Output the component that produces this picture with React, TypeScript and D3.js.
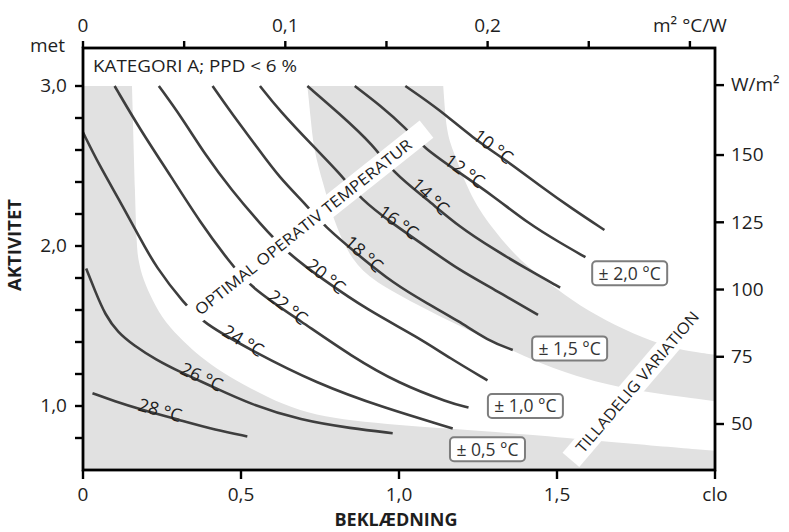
import React from "react";
import * as d3 from "d3";

const WIDTH = 789;
const HEIGHT = 532;
const FONT = "'Open Sans', 'Noto Sans', sans-serif";
const INK = "#1e1e1e";
const LINE = "#3e3e3e";
const SHADE = "#e1e1e1";

// comfort lines (operative temperature), clothing in clo vs activity in met
const temps = [10, 12, 14, 16, 18, 20, 22, 24, 26, 28];
const clo10 = [1.02, 1.13, 1.23, 1.35, 1.45, 1.55, 1.65];
const met10 = [3.0, 2.85, 2.68, 2.52, 2.37, 2.23, 2.1];
const clo12 = [0.86, 0.94, 1.02, 1.08, 1.19, 1.3, 1.41, 1.51, 1.59];
const met12 = [3.0, 2.88, 2.74, 2.61, 2.46, 2.31, 2.14, 2.02, 1.93];
const clo14 = [0.71, 0.81, 0.92, 0.98, 1.09, 1.19, 1.3, 1.41, 1.51];
const met14 = [3.0, 2.83, 2.63, 2.46, 2.29, 2.12, 1.98, 1.85, 1.74];
const clo16 = [0.56, 0.62, 0.73, 0.81, 0.88, 0.98, 1.09, 1.19, 1.3, 1.44];
const met16 = [3.0, 2.85, 2.62, 2.46, 2.29, 2.14, 1.99, 1.85, 1.73, 1.57];
const clo18 = [0.41, 0.47, 0.55, 0.62, 0.71, 0.76, 0.88, 0.98, 1.09, 1.19, 1.28, 1.36];
const met18 = [3.0, 2.83, 2.62, 2.43, 2.25, 2.13, 1.93, 1.77, 1.64, 1.53, 1.41, 1.35];
const clo20 = [0.24, 0.31, 0.39, 0.47, 0.56, 0.65, 0.76, 0.9, 1.06, 1.16, 1.28];
const met20 = [3.0, 2.81, 2.56, 2.35, 2.14, 1.95, 1.79, 1.6, 1.43, 1.3, 1.16];
const clo22 = [0.1, 0.18, 0.28, 0.37, 0.46, 0.53, 0.69, 0.85, 1.0, 1.16, 1.22];
const met22 = [3.0, 2.73, 2.43, 2.15, 1.91, 1.74, 1.53, 1.31, 1.14, 1.02, 0.99];
const clo24 = [0, 0.05, 0.12, 0.18, 0.23, 0.32, 0.38, 0.53, 0.74, 0.95, 1.17];
const met24 = [2.71, 2.51, 2.27, 2.05, 1.87, 1.64, 1.52, 1.35, 1.14, 0.99, 0.86];
const clo26 = [0.01, 0.04, 0.07, 0.11, 0.16, 0.23, 0.31, 0.4, 0.53, 0.69, 0.85, 0.98];
const met26 = [1.86, 1.71, 1.57, 1.46, 1.38, 1.29, 1.21, 1.13, 1.01, 0.91, 0.86, 0.83];
const clo28 = [0.03, 0.1, 0.18, 0.31, 0.42, 0.52];
const met28 = [1.08, 1.03, 0.98, 0.91, 0.85, 0.81];

const curveClo = [clo10, clo12, clo14, clo16, clo18, clo20, clo22, clo24, clo26, clo28];
const curveMet = [met10, met12, met14, met16, met18, met20, met22, met24, met26, met28];
// where along each line its label sits (clo)
const labelClo = [1.29, 1.2, 1.09, 0.99, 0.88, 0.76, 0.64, 0.5, 0.37, 0.24];

// shaded tolerance zones
const zone05Clo = [0.155, 0.165, 0.17, 0.175, 0.19, 0.22, 0.26, 0.32, 0.37, 0.44, 0.53, 0.63, 0.74, 0.85, 1.0, 1.16, 1.42, 1.64, 2.0];
const zone05Met = [3.0, 2.29, 2.0, 1.91, 1.79, 1.66, 1.52, 1.4, 1.31, 1.21, 1.11, 1.01, 0.94, 0.91, 0.88, 0.86, 0.82, 0.78, 0.72];
const zone15UpperClo = [1.14, 1.15, 1.17, 1.23, 1.3, 1.38, 1.5, 1.6, 1.71, 1.83, 1.92, 2.0];
const zone15UpperMet = [3.0, 2.71, 2.6, 2.29, 2.1, 1.91, 1.73, 1.59, 1.48, 1.38, 1.34, 1.32];
const zone15LowerClo = [0.71, 0.72, 0.73, 0.76, 0.79, 0.84, 0.91, 1.04, 1.16, 1.29, 1.45, 1.6, 1.76, 2.0];
const zone15LowerMet = [3.0, 2.81, 2.6, 2.39, 2.18, 1.94, 1.79, 1.65, 1.53, 1.41, 1.26, 1.16, 1.09, 1.03];

// tolerance boxes
const boxText = ["± 2,0 °C", "± 1,5 °C", "± 1,0 °C", "± 0,5 °C"];
const boxClo = [1.73, 1.54, 1.4, 1.28];
const boxMet = [1.83, 1.36, 1.0, 0.73];

// diagonal white label strips: [clo start, met start, clo end, met end]
const optimalStrip = [0.307, 1.506, 1.087, 2.731];
const variationStrip = [1.544, 0.663, 1.965, 1.638];

// axes
const cloTicks = [0, 0.5, 1, 1.5, 2];
const cloLabels = ["0", "0,5", "1,0", "1,5", "clo"];
const metTicks = [0.8, 1.0, 1.2, 1.4, 1.6, 1.8, 2.0, 2.2, 2.4, 2.6, 2.8, 3.0];
const metLabelValues = [1, 2, 3];
const metLabels = ["1,0", "2,0", "3,0"];
const rTicks = [0, 0.05, 0.1, 0.15, 0.2, 0.25, 0.3];
const rLabelValues = [0, 0.1, 0.2, 0.3];
const rLabels = ["0", "0,1", "0,2", "m² °C/W"];
const wTicks = [50, 75, 100, 125, 150, 176];
const wLabels = ["50", "75", "100", "125", "150", "W/m²"];

const zip = (a: number[], b: number[]) => a.map((v, i) => [v, b[i]] as [number, number]);

export default function App() {
  const left = 83, right = 715, top = 48, bottom = 470;
  const x = d3.scaleLinear().domain([0, 2]).range([left, right]);
  const y = d3.scaleLinear().domain([0.6, 3.2375]).range([bottom, top]);
  const xTop = d3.scaleLinear().domain([0, 0.3124]).range([left, right]);
  const yRight = d3.scaleLinear().domain([32.9, 189.8]).range([bottom, top]);

  const line = d3
    .line<[number, number]>()
    .x((d) => x(d[0]))
    .y((d) => y(d[1]))
    .curve(d3.curveBasis);

  const zone05 =
    line(zip(zone05Clo, zone05Met)) +
    `L${x(2)},${y(0.6)}L${x(0)},${y(0.6)}L${x(0)},${y(3)}Z`;
  const lowerRev = zip(zone15LowerClo, zone15LowerMet).reverse();
  const zone15 =
    line(zip(zone15UpperClo, zone15UpperMet)) +
    (line(lowerRev) as string).replace(/^M/, "L") +
    "Z";

  const labelPos = (i: number) => {
    const cl = curveClo[i], mt = curveMet[i], c = labelClo[i];
    let k = cl.findIndex((v, j) => j < cl.length - 1 && c >= v && c <= cl[j + 1]);
    if (k < 0) k = 0;
    const t = (c - cl[k]) / (cl[k + 1] - cl[k]);
    const m = mt[k] + t * (mt[k + 1] - mt[k]);
    const a0 = Math.max(0, k - 1), a1 = Math.min(cl.length - 1, k + 2);
    const ang = (Math.atan2(y(mt[a1]) - y(mt[a0]), x(cl[a1]) - x(cl[a0])) * 180) / Math.PI;
    return { px: x(c), py: y(m), ang };
  };

  const strip = (s: number[], text: string, textLen: number) => {
    const x1 = x(s[0]), y1 = y(s[1]), x2 = x(s[2]), y2 = y(s[3]);
    const len = Math.hypot(x2 - x1, y2 - y1);
    const ang = (Math.atan2(y2 - y1, x2 - x1) * 180) / Math.PI;
    return (
      <g transform={`translate(${(x1 + x2) / 2},${(y1 + y2) / 2}) rotate(${ang})`}>
        <rect x={-len / 2} y={-11} width={len} height={22} fill="#fff" />
        <text
          textAnchor="middle"
          dy="0.36em"
          fontSize={15.5}
          fill={INK}
          textLength={textLen}
          lengthAdjust="spacingAndGlyphs"
        >
          {text}
        </text>
      </g>
    );
  };

  return (
    <svg
      width={WIDTH}
      height={HEIGHT}
      style={{ position: "absolute", left: 0, top: 0, background: "#fff" }}
      fontFamily={FONT}
    >
      <path d={zone05} fill={SHADE} />
      <path d={zone15} fill={SHADE} />

      {temps.map((t, i) => (
        <path
          key={t}
          d={line(zip(curveClo[i], curveMet[i])) as string}
          fill="none"
          stroke={LINE}
          strokeWidth={2.6}
        />
      ))}

      {strip(optimalStrip, "OPTIMAL OPERATIV TEMPERATUR", 272)}
      {strip(variationStrip, "TILLADELIG VARIATION", 180)}

      {temps.map((t, i) => {
        const p = labelPos(i);
        return (
          <text
            key={t}
            transform={`translate(${p.px},${p.py}) rotate(${p.ang})`}
            y={2}
            textAnchor="middle"
            fontSize={18}
            fill={INK}
          >
            {`${t} °C`}
          </text>
        );
      })}

      {boxText.map((b, i) => (
        <g key={b} transform={`translate(${x(boxClo[i])},${y(boxMet[i])})`}>
          <rect x={-37.5} y={-12} width={75} height={24} rx={4} fill="#fff" stroke="#7d7d7d" strokeWidth={2} />
          <text textAnchor="middle" dy="0.36em" fontSize={17.5} fill="#333">
            {b}
          </text>
        </g>
      ))}

      <text x={93} y={72} fontSize={16.5} fill={INK} textLength={204} lengthAdjust="spacingAndGlyphs">
        KATEGORI A; PPD &lt; 6 %
      </text>

      {/* frame */}
      <rect x={left} y={top} width={right - left} height={bottom - top} fill="none" stroke="#000" strokeWidth={2.8} />

      {/* bottom axis: clo */}
      {cloTicks.map((c, i) => (
        <g key={c} transform={`translate(${x(c)},${bottom})`}>
          <line y2={9} stroke="#000" strokeWidth={2.4} />
          <text y={31} textAnchor="middle" fontSize={19} fill={INK}>
            {cloLabels[i]}
          </text>
        </g>
      ))}
      {/* top axis: m² °C/W */}
      {rTicks.map((r) => (
        <line key={r} x1={xTop(r)} x2={xTop(r)} y1={top} y2={top - 7} stroke="#000" strokeWidth={2.4} />
      ))}
      {rLabelValues.map((r, i) => (
        <text key={r} x={xTop(r)} y={32} textAnchor="middle" fontSize={19} fill={INK}>
          {rLabels[i]}
        </text>
      ))}
      {/* left axis: met */}
      {metTicks.map((m) => (
        <line key={m} x1={left} x2={left - 8} y1={y(m)} y2={y(m)} stroke="#000" strokeWidth={2.4} />
      ))}
      {metLabelValues.map((m, i) => (
        <text key={m} x={67} y={y(m)} dy="0.33em" textAnchor="end" fontSize={19} fill={INK}>
          {metLabels[i]}
        </text>
      ))}
      <text x={65} y={top - 2} dy="0.33em" textAnchor="end" fontSize={19} fill={INK}>
        met
      </text>
      {/* right axis: W/m² */}
      {wTicks.map((w, i) => (
        <g key={w} transform={`translate(${right},${yRight(w)})`}>
          <line x2={9} stroke="#000" strokeWidth={2.4} />
          <text x={16} dy="0.33em" fontSize={19} fill={INK}>
            {wLabels[i]}
          </text>
        </g>
      ))}

      <text
        transform="translate(21,245) rotate(-90)"
        textAnchor="middle"
        fontSize={18}
        fontWeight="bold"
        fill={INK}
        textLength={92}
        lengthAdjust="spacingAndGlyphs"
      >
        AKTIVITET
      </text>
      <text
        x={396}
        y={526}
        textAnchor="middle"
        fontSize={18}
        fontWeight="bold"
        fill={INK}
        textLength={123}
        lengthAdjust="spacingAndGlyphs"
      >
        BEKLÆDNING
      </text>
    </svg>
  );
}
